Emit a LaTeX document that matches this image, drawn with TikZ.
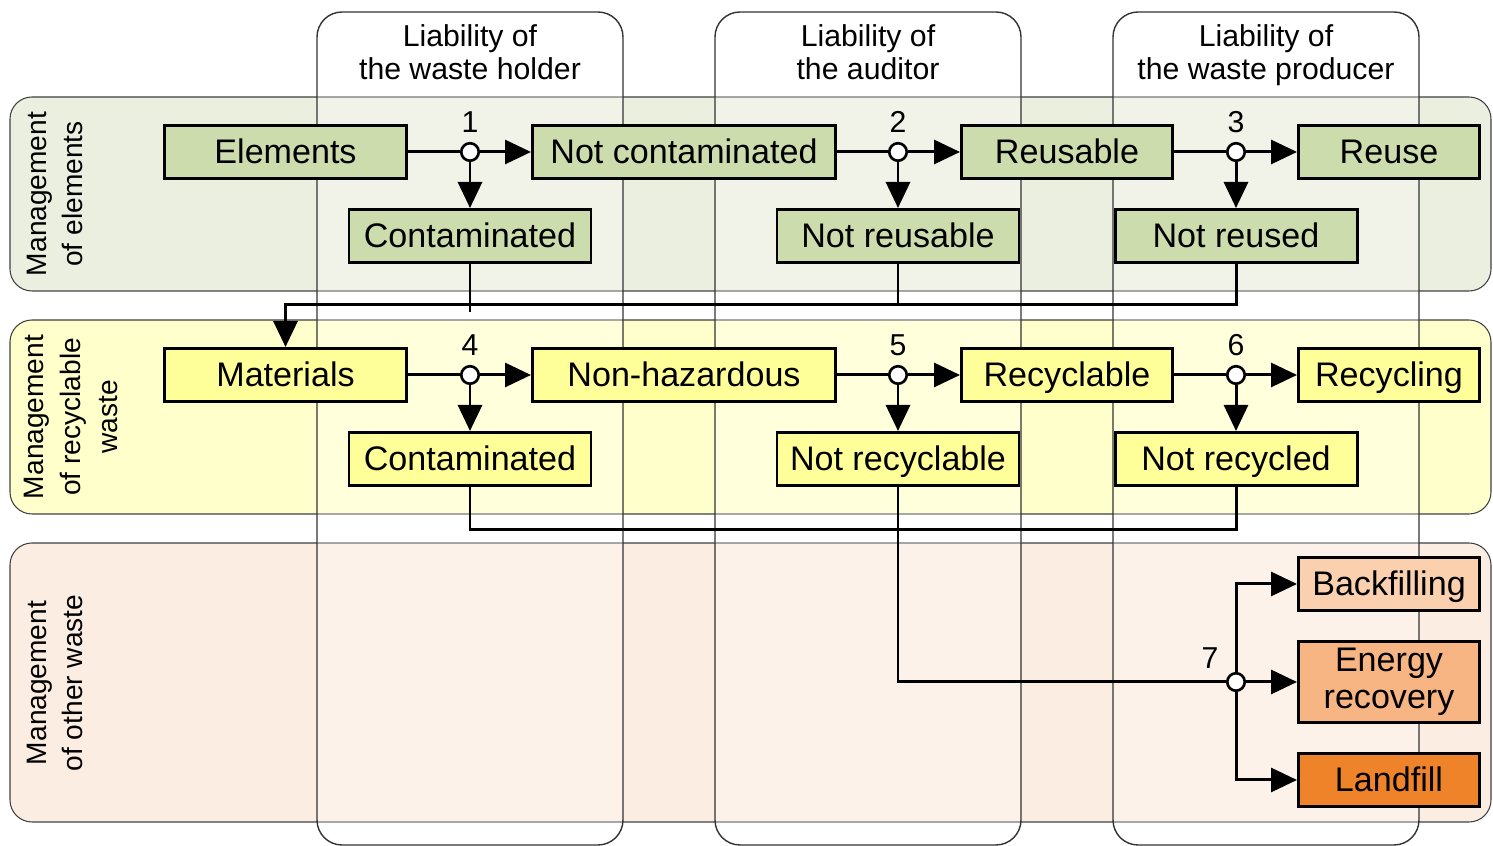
\documentclass[tikz,border=0pt]{standalone}
\usepackage{fontspec}
\setmainfont{Liberation Sans}
\usetikzlibrary{shapes,arrows.meta,positioning}
\pgfdeclarelayer{background}
\pgfsetlayers{background,main}
\definecolor{laneGreen}{HTML}{EBEFDF}
\definecolor{laneYellow}{HTML}{FFFFCC}
\definecolor{lanePeach}{HTML}{FCEDE2}
\definecolor{boxGreen}{HTML}{CDDCAC}
\definecolor{boxYellow}{HTML}{FFFF99}
\definecolor{boxPeach}{HTML}{FAD0AE}
\definecolor{boxApricot}{HTML}{F6B583}
\definecolor{boxOrange}{HTML}{EF8329}

\begin{document}
\begin{tikzpicture}[x=0.1mm,y=-0.1mm,every node/.style = {shape = rectangle, draw = black, line width = 0.85pt, minimum height = 5.3mm, inner sep = 0pt, align = center, text height = 2.7mm, text depth = 0.3mm, font = \fontsize{9.7}{10.4}\selectfont},green box/.style = {fill = boxGreen},yellow box/.style = {fill = boxYellow},black edge/.style = { -, line width = 0.85pt, black},arrow edge/.style = {black edge, -{Triangle[length=2.6mm,width=2.4mm]}},junction/.style = {circle, fill = white, minimum size = 1.75mm, minimum height = 1.75mm, line width = 0.75pt, text height = {}, text depth = {}},num/.style = {draw = none, minimum height = 0pt, text height = {}, text depth = {}, font = \fontsize{8.6}{9.4}\selectfont},header/.style = {num, anchor = north},lane label/.style = {num, rotate = 90, font = \fontsize{8}{10.4}\selectfont},lane/.style = {draw = black!75, line width = 0.3pt, rounded corners = 2.2mm},column/.style = {draw = black!80, line width = 0.4pt, rounded corners = 2.5mm, fill = white, fill opacity = 0.3}]
\useasboundingbox (0,0) rectangle (1493,846);

\begin{pgfonlayer}{background}
  \draw[lane, fill = laneGreen]  (10,97)  rectangle (1491,291);
  \draw[lane, fill = laneYellow] (10,320) rectangle (1491,514);
  \draw[lane, fill = lanePeach]  (10,543) rectangle (1491,822);
  \foreach \x in {317,715,1113}
    { \draw[column] (\x,12) rectangle ++(306,833); }
\end{pgfonlayer}

\node[header](h;1) at (470,23)  {Liability of \\ the waste holder};
\node[header](h;2) at (868,23)  {Liability of \\ the auditor};
\node[header](h;3) at (1266,23) {Liability of \\ the waste producer};

\node[lane label](l;1) at (55,194) {Management \\ of elements};
\node[lane label](l;2) at (71,417) {Management \\ of recyclable \\ waste};
\node[lane label](l;3) at (55,683) {Management \\ of other waste};

% management of elements
\node[green box, minimum width = 24.2mm](1;0)  at (285.5,152) {Elements};
\node[green box, minimum width = 30.3mm](1;1)  at (684,152)   {Not contaminated};
\node[green box, minimum width = 21.1mm](1;2)  at (1067,152)  {Reusable};
\node[green box, minimum width = 18.1mm](1;3)  at (1389,152)  {Reuse};
\node[green box, minimum width = 24.2mm](1;-1) at (470,236)   {Contaminated};
\node[green box, minimum width = 24.2mm](1;-2) at (898,236)   {Not reusable};
\node[green box, minimum width = 24.2mm](1;-3) at (1236,236)  {Not reused};

% management of recyclable waste
\node[yellow box, minimum width = 24.2mm](2;0)  at (285.5,375) {Materials};
\node[yellow box, minimum width = 30.3mm](2;1)  at (684,375)   {Non-hazardous};
\node[yellow box, minimum width = 21.1mm](2;2)  at (1067,375)  {Recyclable};
\node[yellow box, minimum width = 18.1mm](2;3)  at (1389,375)  {Recycling};
\node[yellow box, minimum width = 24.2mm](2;-1) at (470,459)   {Contaminated};
\node[yellow box, minimum width = 24.2mm](2;-2) at (898,459)   {Not recyclable};
\node[yellow box, minimum width = 24.2mm](2;-3) at (1236,459)  {Not recycled};

% management of other waste
\node[fill = boxPeach,   minimum width = 18.1mm](3;1) at (1389,584) {Backfilling};
\node[fill = boxApricot, minimum width = 18.1mm, minimum height = 8.1mm, text height = {}, text depth = {}](3;2) at (1389,682) {Energy \\ recovery};
\node[fill = boxOrange,  minimum width = 18.1mm](3;3) at (1389,780) {Landfill};

% decision points
\foreach \r/\y in {1/152,2/375}
  { \foreach \j/\x in {1/470,2/898,3/1236}
    { \node[junction](j\r;\j) at (\x,\y) {}; } }
\node[junction](j3) at (1236,682) {};

\node[num](n1) at (470,122)  {1};
\node[num](n2) at (898,122)  {2};
\node[num](n3) at (1236,122) {3};
\node[num](n4) at (470,345)  {4};
\node[num](n5) at (898,345)  {5};
\node[num](n6) at (1236,345) {6};
\node[num](n7) at (1210,658) {7};

\foreach \r in {1,2}
  { \foreach \i/\j in {0/1,1/2,2/3}
    { \draw[black edge] (\r;\i.east) -- (j\r;\j);
      \draw[arrow edge] (j\r;\j) -- (\r;\j.west);
      \draw[arrow edge] (j\r;\j) -- (\r;-\j.north); } }

\coordinate (m0) at (470,312);
\coordinate (m1) at (285.5,305);
\coordinate (m2) at (470,530);
\draw[black edge] (1;-1.south) -- (m0);
\draw[black edge] (1;-2.south) -- (1;-2.south |- m1);
\draw[arrow edge] (1;-3.south) |- (m1) -- (2;0.north);
\draw[black edge] (2;-1.south) -- (m2) -| (2;-3.south);
\draw[black edge] (2;-2.south) |- (j3);
\draw[arrow edge] (j3) -- (3;2.west);
\draw[arrow edge] (j3) |- (3;1.west);
\draw[arrow edge] (j3) |- (3;3.west);

\end{tikzpicture}
\end{document}
